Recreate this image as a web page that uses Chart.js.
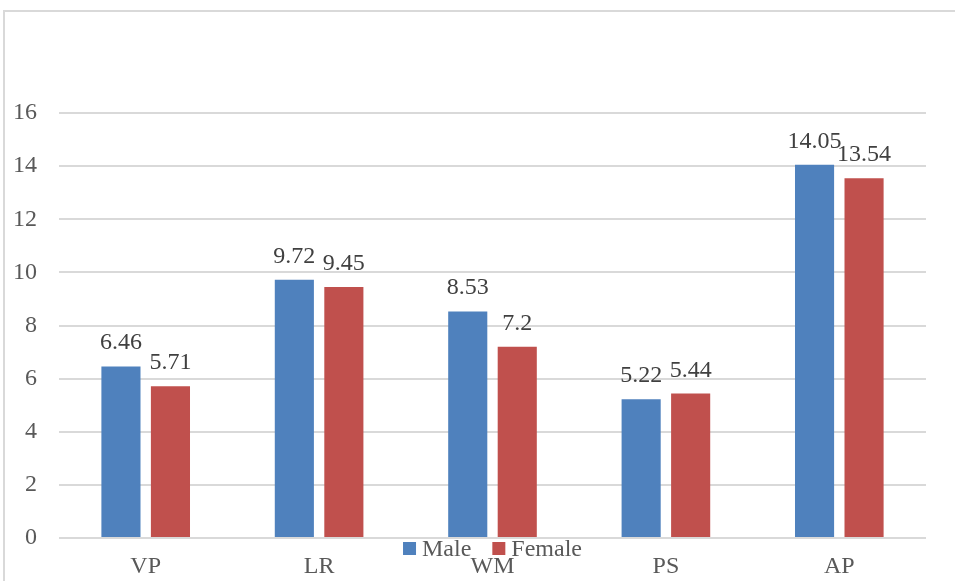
<!DOCTYPE html>
<html>
<head>
<meta charset="utf-8">
<script src="https://cdn.jsdelivr.net/npm/chart.js@4/dist/chart.umd.min.js"></script>
<style>
  html, body { margin: 0; padding: 0; background: #fff; overflow: hidden; }
  #wrap { position: relative; width: 955px; height: 581px; }
  #frame { position: absolute; left: 3px; top: 10px; width: 1000px; height: 1000px;
           border: 2px solid #d9d9d9; box-sizing: border-box; }
  canvas { position: absolute; left: 0; top: 0; }
</style>
</head>
<body>
<div id="wrap">
  <div id="frame"></div>
  <canvas id="c" width="955" height="581"></canvas>
</div>
<script>
// Scores by component, split by gender
const categories = ['VP', 'LR', 'WM', 'PS', 'AP'];
const maleValues = [6.46, 9.72, 8.53, 5.22, 14.05];
const femaleValues = [5.71, 9.45, 7.2, 5.44, 13.54];
const yTicks = [0, 2, 4, 6, 8, 10, 12, 14, 16];

const FONT = 'Liberation Serif';
const AXIS_COLOR = '#595959';

// Value printed above each bar
const valueLabels = {
  id: 'valueLabels',
  afterDatasetsDraw(chart) {
    const ctx = chart.ctx;
    ctx.save();
    ctx.font = '24px "' + FONT + '"';
    ctx.fillStyle = '#404040';
    ctx.textAlign = 'center';
    ctx.textBaseline = 'alphabetic';
    chart.data.datasets.forEach((ds, i) => {
      chart.getDatasetMeta(i).data.forEach((bar, j) => {
        ctx.fillText(String(ds.data[j]), bar.x, bar.y - 17);
      });
    });
    ctx.restore();
  }
};

// Legend sitting between the baseline and the category labels
const inlineLegend = {
  id: 'inlineLegend',
  afterDraw(chart) {
    const ctx = chart.ctx;
    const area = chart.chartArea;
    ctx.save();
    ctx.font = '24px "' + FONT + '"';
    ctx.textBaseline = 'middle';
    ctx.textAlign = 'left';
    const box = 13, gapText = 6, gapItem = 21;
    const items = chart.data.datasets.map(ds => ({
      text: ds.label,
      color: ds.backgroundColor,
      w: ctx.measureText(ds.label).width
    }));
    const total = items.reduce((s, it) => s + box + gapText + it.w, 0) + gapItem * (items.length - 1);
    let x = (area.left + area.right) / 2 - total / 2;
    const y = area.bottom + 10.5;
    items.forEach(it => {
      ctx.fillStyle = it.color;
      ctx.fillRect(x, y - box / 2, box, box);
      x += box + gapText;
      ctx.fillStyle = AXIS_COLOR;
      ctx.fillText(it.text, x, y + 1);
      x += it.w + gapItem;
    });
    ctx.restore();
  }
};

new Chart(document.getElementById('c'), {
  type: 'bar',
  data: {
    labels: categories,
    datasets: [
      {
        label: 'Male',
        data: maleValues,
        backgroundColor: '#4F81BD',
        categoryPercentage: 0.571,
        barPercentage: 0.79
      },
      {
        label: 'Female',
        data: femaleValues,
        backgroundColor: '#C0504D',
        categoryPercentage: 0.571,
        barPercentage: 0.79
      }
    ]
  },
  options: {
    responsive: false,
    animation: false,
    layout: { padding: { left: 0, right: 29, top: 113, bottom: 0 } },
    plugins: {
      legend: { display: false },
      tooltip: { enabled: false }
    },
    scales: {
      x: {
        grid: { display: false, drawTicks: false },
        border: { display: false },
        ticks: {
          color: AXIS_COLOR,
          font: { family: FONT, size: 24 },
          padding: 14,
          maxRotation: 0
        },
        afterFit(scale) { scale.height = 43; }
      },
      y: {
        min: 0,
        max: 16,
        afterBuildTicks(scale) { scale.ticks = yTicks.map(v => ({ value: v })); },
        ticks: {
          color: AXIS_COLOR,
          font: { family: FONT, size: 24 },
          padding: 22
        },
        grid: { color: '#d9d9d9', lineWidth: 2, drawTicks: false },
        border: { display: false },
        afterFit(scale) { scale.width = 59; }
      }
    }
  },
  plugins: [valueLabels, inlineLegend]
});
</script>
</body>
</html>
